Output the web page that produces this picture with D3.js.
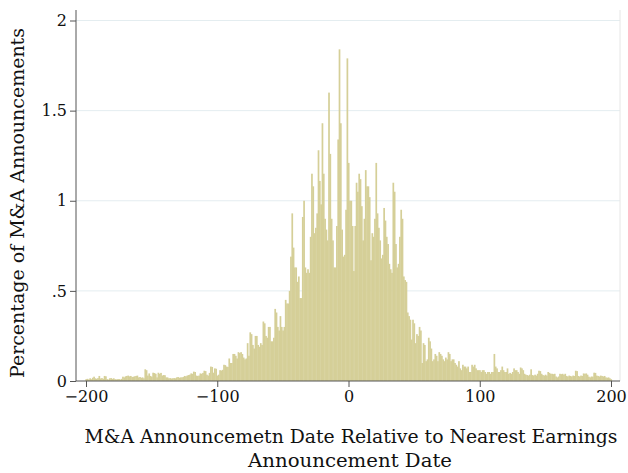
<!DOCTYPE html>
<html>
<head>
<meta charset="utf-8">
<script src="https://cdn.jsdelivr.net/npm/d3@7"></script>
<style>
  body { margin: 0; background: #fff; }
  svg { display: block; }
</style>
</head>
<body>
<svg id="chart"></svg>
<script>
// days relative to nearest earnings announcement, -200..200
const days = d3.range(-200, 201);

// percentage of M&A announcements for each day
const pct = [
  0.01, 0.012, 0.008, 0.015, 0.01, 0.018, 0.024, 0.015, 0.012, 0.016,      // -200
  0.028, 0.014, 0.016, 0.012, 0.028, 0.026, 0.01, 0.008, 0.015, 0.016,     // -190
  0.012, 0.015, 0.01, 0.009, 0.01, 0.011, 0.008, 0.012, 0.024, 0.02,       // -180
  0.026, 0.028, 0.03, 0.026, 0.028, 0.022, 0.024, 0.026, 0.028, 0.03,      // -170
  0.02, 0.022, 0.018, 0.02, 0.015, 0.065, 0.06, 0.03, 0.042, 0.028,        // -160
  0.024, 0.046, 0.044, 0.04, 0.02, 0.046, 0.04, 0.045, 0.03, 0.033,        // -150
  0.032, 0.02, 0.02, 0.015, 0.016, 0.014, 0.015, 0.016, 0.015, 0.02,       // -140
  0.022, 0.018, 0.02, 0.02, 0.022, 0.028, 0.026, 0.03, 0.033, 0.035,       // -130
  0.042, 0.04, 0.052, 0.05, 0.03, 0.028, 0.03, 0.042, 0.04, 0.045,         // -120
  0.057, 0.055, 0.035, 0.03, 0.045, 0.08, 0.078, 0.046, 0.07, 0.068,       // -110
  0.03, 0.035, 0.06, 0.058, 0.062, 0.09, 0.088, 0.08, 0.078, 0.125,        // -100
  0.1, 0.1, 0.15, 0.15, 0.14, 0.125, 0.16, 0.155, 0.16, 0.15,              // -90
  0.13, 0.12, 0.125, 0.21, 0.14, 0.27, 0.26, 0.2, 0.18, 0.25,              // -80
  0.25, 0.2, 0.19, 0.21, 0.2, 0.33, 0.32, 0.25, 0.24, 0.3,                 // -70
  0.3, 0.22, 0.22, 0.24, 0.4, 0.38, 0.3, 0.28, 0.36, 0.3,                  // -60
  0.28, 0.3, 0.45, 0.43, 0.43, 0.5, 0.69, 0.93, 0.74, 0.63,                // -50
  0.63, 0.55, 0.58, 0.46, 0.46, 0.91, 1.0, 0.63, 0.6, 0.62,                // -40
  0.6, 0.8, 1.15, 1.08, 0.82, 0.85, 0.93, 1.28, 1.11, 0.98,                // -30
  1.43, 1.15, 0.9, 0.84, 0.78, 1.6, 1.26, 0.9, 0.78, 0.63,                 // -20
  0.63, 0.86, 1.34, 1.84, 1.43, 0.84, 0.69, 0.7, 0.95, 1.79,               // -10
  1.21, 1.0, 1.0, 0.86, 0.61, 0.86, 1.1, 1.05, 1.15, 1.12,                 // 0
  0.97, 0.78, 0.9, 1.17, 1.08, 1.08, 1.02, 0.67, 0.82, 0.8,                // 10
  0.9, 1.21, 0.93, 0.85, 0.78, 0.68, 0.7, 0.96, 0.89, 0.8,                 // 20
  0.76, 0.65, 0.62, 0.6, 1.1, 1.05, 0.76, 0.63, 0.65, 0.8,                 // 30
  0.95, 0.9, 0.58, 0.56, 0.55, 0.38, 0.36, 0.34, 0.23, 0.34,               // 40
  0.32, 0.21, 0.26, 0.25, 0.3, 0.28, 0.1, 0.21, 0.2, 0.11,                 // 50
  0.12, 0.24, 0.22, 0.18, 0.11, 0.12, 0.15, 0.14, 0.11, 0.16,              // 60
  0.15, 0.14, 0.12, 0.11, 0.13, 0.12, 0.16, 0.15, 0.11, 0.12,              // 70
  0.12, 0.1, 0.09, 0.08, 0.11, 0.07, 0.06, 0.09, 0.08, 0.08,               // 80
  0.07, 0.08, 0.05, 0.05, 0.09, 0.08, 0.09, 0.07, 0.06, 0.06,              // 90
  0.06, 0.05, 0.06, 0.06, 0.05, 0.04, 0.05, 0.05, 0.04, 0.05,              // 100
  0.05, 0.15, 0.08, 0.07, 0.05, 0.05, 0.06, 0.08, 0.06, 0.05,              // 110
  0.05, 0.07, 0.04, 0.045, 0.04, 0.05, 0.07, 0.06, 0.06, 0.05,             // 120
  0.04, 0.075, 0.07, 0.06, 0.04, 0.035, 0.033, 0.03, 0.035, 0.065,         // 130
  0.033, 0.03, 0.035, 0.03, 0.04, 0.057, 0.055, 0.04, 0.033, 0.03,         // 140
  0.035, 0.03, 0.05, 0.045, 0.04, 0.04, 0.038, 0.04, 0.025, 0.02,          // 150
  0.025, 0.04, 0.038, 0.04, 0.035, 0.04, 0.028, 0.025, 0.03, 0.028,        // 160
  0.025, 0.03, 0.028, 0.057, 0.055, 0.028, 0.025, 0.03, 0.028, 0.042,      // 170
  0.04, 0.042, 0.035, 0.024, 0.02, 0.025, 0.024, 0.046, 0.045, 0.03,       // 180
  0.028, 0.025, 0.03, 0.028, 0.025, 0.028, 0.02, 0.018, 0.02, 0.015,       // 190
  0.01                                                                     // 200
];

const xTicks = [-200, -100, 0, 100, 200];
const yTicks = [0, 0.5, 1, 1.5, 2];
const yTickLabels = ["0", ".5", "1", "1.5", "2"];

const data = days.map((d, i) => ({ day: d, pct: pct[i] }));

const width = 628;
const height = 473;
const plotLeft = 76, plotRight = 620, plotTop = 10, plotBottom = 381;

const svg = d3.select("#chart")
  .attr("width", width)
  .attr("height", height)
  .attr("viewBox", `0 0 ${width} ${height}`)
  .style("font-family", "'DejaVu Serif', serif");

const x = d3.scaleLinear()
  .domain([-200, 200])
  .range([86, 611]);

const y = d3.scaleLinear()
  .domain([0, 2])
  .range([plotBottom, 20.5]);

// grid lines
svg.append("g")
  .selectAll("line")
  .data(yTicks.filter(t => t > 0))
  .join("line")
  .attr("x1", plotLeft)
  .attr("x2", plotRight)
  .attr("y1", d => y(d))
  .attr("y2", d => y(d))
  .attr("stroke", "#e4edf0")
  .attr("stroke-width", 1);

// right border of the plot region
svg.append("line")
  .attr("x1", plotRight).attr("x2", plotRight)
  .attr("y1", plotTop).attr("y2", plotBottom)
  .attr("stroke", "#e6e6e6");

// bars
const bw = x(1) - x(0);
svg.append("g")
  .attr("fill", "#d5cf98")
  .selectAll("rect")
  .data(data)
  .join("rect")
  .attr("x", d => x(d.day) - bw / 2)
  .attr("width", bw + 0.4)
  .attr("y", d => y(d.pct))
  .attr("height", d => y(0) - y(d.pct));

// x axis
svg.append("g")
  .attr("transform", `translate(0,${plotBottom})`)
  .call(d3.axisBottom(x).tickValues(xTicks).tickSize(6).tickPadding(4)
    .tickFormat(d => d < 0 ? "\u2212" + Math.abs(d) : d))
  .call(g => g.select(".domain").attr("d", `M${plotLeft},0H${plotRight}`))
  .call(g => g.selectAll("line, path").attr("stroke", "#555"))
  .call(g => g.selectAll("text").attr("font-size", 16).attr("fill", "#111")
    .attr("font-family", "'DejaVu Serif', serif"));

// y axis
svg.append("g")
  .attr("transform", `translate(${plotLeft},0)`)
  .call(d3.axisLeft(y).tickValues(yTicks).tickSize(6).tickPadding(3)
    .tickFormat((d, i) => yTickLabels[i]))
  .call(g => g.select(".domain").attr("d", `M0,${plotTop}V${plotBottom}`))
  .call(g => g.selectAll("line, path").attr("stroke", "#555"))
  .call(g => g.selectAll("text").attr("font-size", 16).attr("fill", "#111")
    .attr("font-family", "'DejaVu Serif', serif"));

// axis titles
svg.append("text")
  .attr("transform", `translate(24,203) rotate(-90)`)
  .attr("text-anchor", "middle")
  .attr("font-size", 18.5)
  .attr("textLength", 350)
  .attr("lengthAdjust", "spacingAndGlyphs")
  .attr("fill", "#111")
  .text("Percentage of M&A Announcements");

svg.append("text")
  .attr("x", 351)
  .attr("y", 443)
  .attr("text-anchor", "middle")
  .attr("font-size", 18.5)
  .attr("textLength", 533)
  .attr("lengthAdjust", "spacingAndGlyphs")
  .attr("fill", "#111")
  .text("M&A Announcemetn Date Relative to Nearest Earnings");

svg.append("text")
  .attr("x", 350)
  .attr("y", 467)
  .attr("text-anchor", "middle")
  .attr("font-size", 18.5)
  .attr("textLength", 204)
  .attr("lengthAdjust", "spacingAndGlyphs")
  .attr("fill", "#111")
  .text("Announcement Date");
</script>
</body>
</html>
